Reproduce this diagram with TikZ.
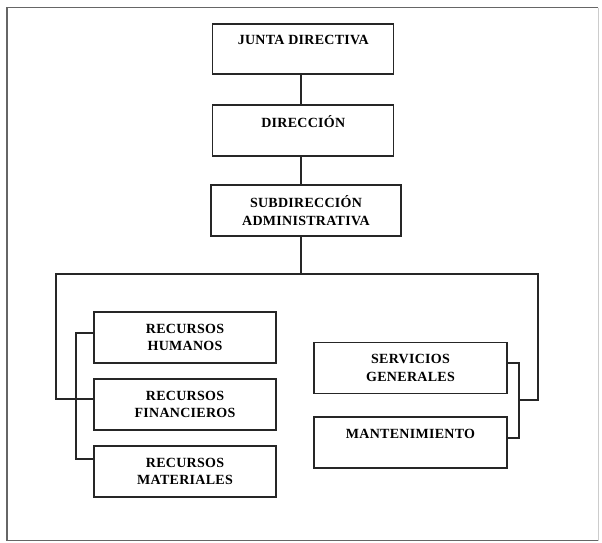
\documentclass[tikz,border=0pt]{standalone}
\usepackage{fontspec}
\setmainfont{Liberation Serif}[LetterSpace=2]
\usetikzlibrary{calc}

\begin{document}
\begin{tikzpicture}[x=1pt, y=-1pt,
    caja/.style={draw=black!85, line width=1.1pt, align=center, inner sep=0pt,
        minimum height=51pt, font=\fontsize{14}{17.5}\selectfont\bfseries},
    linea/.style={draw=black!85, line width=1.1pt}]

    % Fix the page size to the reference
    \useasboundingbox (0,0) rectangle (602,542);

    % Draw the outer frame (the right side is faint in the scan)
    \draw[black!60, line width=1.2pt] (598,7.5) -- (7,7.5) -- (7,540.5) -- (598,540.5);
    \draw[black!20, line width=1pt] (598,7.5) -- (598,540.5);

    % Top of the chart
    \node[caja, minimum width=181pt, minimum height=50pt] (junta) at (303.3,49) {JUNTA DIRECTIVA\\ \mbox{}};
    \node[caja, minimum width=181pt] (dir) at (303.3,130.5) {DIRECCIÓN\\ \mbox{}};
    \node[caja, minimum width=190pt] (sub) at (306,210.5) {SUBDIRECCIÓN\\ADMINISTRATIVA};

    % Left branch
    \node[caja, minimum width=182pt] (rh) at (185,337.5) {RECURSOS\\HUMANOS};
    \node[caja, minimum width=182pt] (rf) at (185,404.5) {RECURSOS\\FINANCIEROS};
    \node[caja, minimum width=182pt] (rm) at (185,471.5) {RECURSOS\\MATERIALES};

    % Right branch
    \node[caja, minimum width=193pt] (sg) at (410.5,368) {SERVICIOS\\GENERALES};
    \node[caja, minimum width=193pt] (mt) at (410.5,442.5) {MANTENIMIENTO\\ \mbox{}};

    % Define the corners of the connecting lines
    \coordinate (eje) at (301,274);
    \coordinate (izq) at (56,399);
    \coordinate (der) at (538,400);
    \coordinate (ci1) at (76,333);
    \coordinate (ci2) at (76,459);
    \coordinate (cd1) at (519,363);
    \coordinate (cd2) at (519,438);

    % Draw the vertical line down the middle
    \draw[linea] (eje |- junta.south) -- (eje |- dir.north);
    \draw[linea] (eje |- dir.south) -- (eje |- sub.north);
    \draw[linea] (eje |- sub.south) -- (eje);

    % Draw the long bracket to both branches
    \draw[linea] (rf.west |- izq) -- (izq) -- (izq |- eje) -- (der |- eje) -- (der) -- (cd1 |- der);

    % Draw the inner brackets
    \draw[linea] (rh.west |- ci1) -- (ci1) -- (ci2) -- (rm.west |- ci2);
    \draw[linea] (sg.east |- cd1) -- (cd1) -- (cd2) -- (mt.east |- cd2);

\end{tikzpicture}
\end{document}
